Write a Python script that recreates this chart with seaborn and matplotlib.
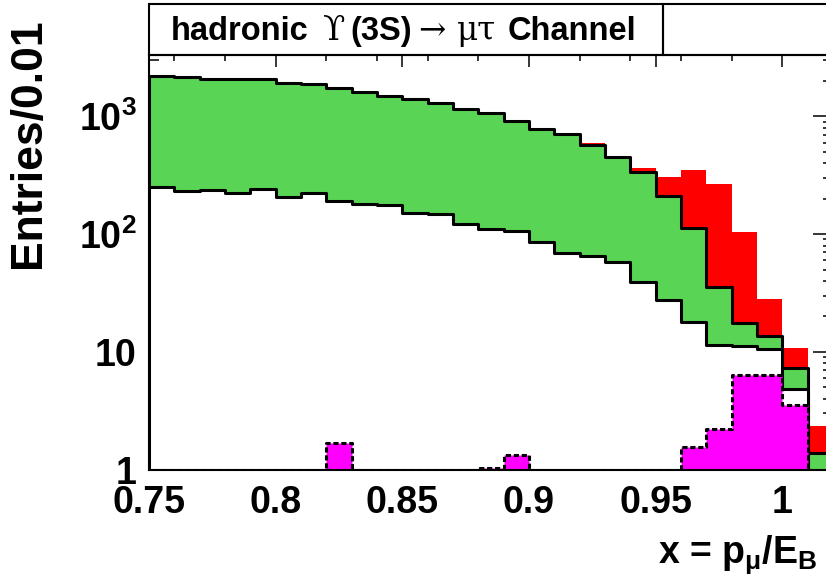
import numpy as np
import pandas as pd
import matplotlib
matplotlib.use("Agg")
import matplotlib.pyplot as plt
import seaborn as sns
from matplotlib.patches import Rectangle
from matplotlib.ticker import FixedLocator, LogLocator, NullFormatter

# Binning: x = p_mu / E_B, 0.01 wide bins
bin_edges = [round(0.75 + 0.01 * i, 2) for i in range(28)]
bin_centers = [e + 0.005 for e in bin_edges[:-1]]

# Stacked MC totals (entries per 0.01)
total_mc = [2218, 2170, 2079, 2079, 2110, 1910, 1875, 1733, 1611, 1490,
            1397, 1320, 1148, 1075, 908, 782, 708, 591, 464, 362,
            304, 351, 265, 104, 28.1, 10.7, 2.34]
bkg_sum = [2218, 2149, 2079, 2079, 2079, 1910, 1875, 1733, 1611, 1490,
           1397, 1291, 1148, 1070, 908, 782, 708, 571, 449, 335,
           211, 113, 35.7, 17.5, 13.6, 7.3, 1.39]
bkg_part = [250, 232, 237, 222, 242, 208, 222, 191, 180, 176,
            150, 147, 122, 110, 107, 86, 68.7, 65.2, 57.6, 39.4,
            27.5, 17.8, 11.4, 11.2, 10.6, 4.8, 0.8]
signal = [0, 0, 0, 0, 0, 0, 0, 1.69, 0, 0,
          0, 0, 0, 1.03, 1.33, 0, 0, 0, 0, 0,
          0, 1.54, 2.21, 6.35, 6.4, 3.53, 0]

y_min, y_max = 1.0, 3325.0
x_min, x_max = 0.75, 1.02

hist = pd.DataFrame({
    "x": bin_centers,
    "total_mc": total_mc,
    "bkg_sum": bkg_sum,
    "bkg_part": bkg_part,
    # empty signal bins sit on the lower edge of the log axis
    "signal": np.maximum(np.asarray(signal, dtype=float), y_min),
})

sns.set_theme(style="ticks")
plt.rcParams.update({
    "font.family": ["Liberation Sans", "DejaVu Sans"],
    "font.weight": "bold",
    "mathtext.fontset": "custom",
    "mathtext.rm": "Liberation Sans:bold",
    "mathtext.it": "Liberation Sans:bold",
    "mathtext.bf": "Liberation Sans:bold",
    "mathtext.sf": "Liberation Sans:bold",
    "axes.linewidth": 1.5,
    "axes.edgecolor": "black",
    "text.color": "black",
    "axes.labelcolor": "black",
    "xtick.color": "black",
    "ytick.color": "black",
})

W, H = 826, 578
fig = plt.figure(figsize=(W / 100, H / 100), dpi=100)
ax = fig.add_axes([149 / W, 1 - 469.5 / H, (833 - 149) / W, (469.5 - 55) / H])
ax.set_yscale("log")

dash = (0, (1.7, 0.9))
layers = [
    ("total_mc", "#ff0000", "none", "-"),
    ("bkg_sum", "#59d454", "black", "-"),
    ("bkg_part", "white", "black", "-"),
    ("signal", "#ff00ff", "black", dash),
]
for col, face, edge, ls in layers:
    sns.histplot(data=hist, x="x", weights=col, bins=bin_edges, element="step",
                 fill=True, color=face, edgecolor=edge, linewidth=2.2,
                 linestyle=ls, alpha=1, ax=ax)

ax.set_xlim(x_min, x_max)
ax.set_ylim(y_min, y_max)
ax.set_xlabel("")
ax.set_ylabel("")

# x ticks
ax.xaxis.set_major_locator(FixedLocator([0.75, 0.80, 0.85, 0.90, 0.95, 1.00]))
ax.set_xticklabels(["0.75", "0.8", "0.85", "0.9", "0.95", "1"])
ax.xaxis.set_minor_locator(FixedLocator([0.76, 0.78, 0.82, 0.84, 0.86, 0.88,
                                         0.92, 0.94, 0.96, 0.98]))
# y ticks
ax.yaxis.set_major_locator(FixedLocator([1, 10, 100, 1000]))
ax.set_yticklabels(["1", "10", r"10$^{2}$", r"10$^{3}$"])
ax.yaxis.set_minor_locator(LogLocator(base=10, subs=np.arange(2, 10)))
ax.yaxis.set_minor_formatter(NullFormatter())

ax.tick_params(axis="x", which="major", direction="in", length=8.6, width=1.1,
               top=True, bottom=True, labelsize=27, pad=11)
ax.tick_params(axis="x", which="minor", direction="in", length=4, width=1.1,
               top=True, bottom=True)
ax.tick_params(axis="y", which="major", direction="in", length=14.4, width=1.1,
               left=True, right=True, labelsize=27, pad=9)
ax.tick_params(axis="y", which="minor", direction="in", length=7.2, width=1.1,
               left=True, right=True)
for lab in ax.get_xticklabels() + ax.get_yticklabels():
    lab.set_fontweight("bold")

# Title box above the frame
fig.add_artist(Rectangle((149 / W, 1 - 55 / H), (663 - 149) / W, 51 / H,
                         transform=fig.transFigure, fill=False,
                         edgecolor="black", linewidth=1.5))
fig.add_artist(Rectangle((663 / W, 1 - 55 / H), (840 - 663) / W, 51 / H,
                         transform=fig.transFigure, fill=False,
                         edgecolor="black", linewidth=1.5))

# Title: sans-serif words with serif symbols, sharing one baseline
title_parts = [
    (171, "hadronic", "Liberation Sans", "bold"),
    (323, "ϒ", "DejaVu Serif", "normal"),
    (350, "(3S)", "Liberation Sans", "bold"),
    (418, "→", "DejaVu Serif", "normal"),
    (457, "μτ", "DejaVu Serif", "normal"),
    (508, "Channel", "Liberation Sans", "bold"),
]
for px, txt, fam, wt in title_parts:
    fig.text(px / W, 1 - 40 / H, txt, fontsize=23.5, family=[fam, "DejaVu Sans"],
             fontweight=wt, ha="left", va="baseline")

# Axis titles
fig.text(29 / W, 1 - 18 / H, "Entries/0.01", rotation=90, fontsize=32,
         fontweight="bold", ha="center", va="top")
fig.text(818 / W, 1 - 563 / H, r"x = p$_{\mu}$/E$_{B}$", fontsize=27,
         fontweight="bold", ha="right", va="baseline")

fig.savefig("out.png", dpi=100)
